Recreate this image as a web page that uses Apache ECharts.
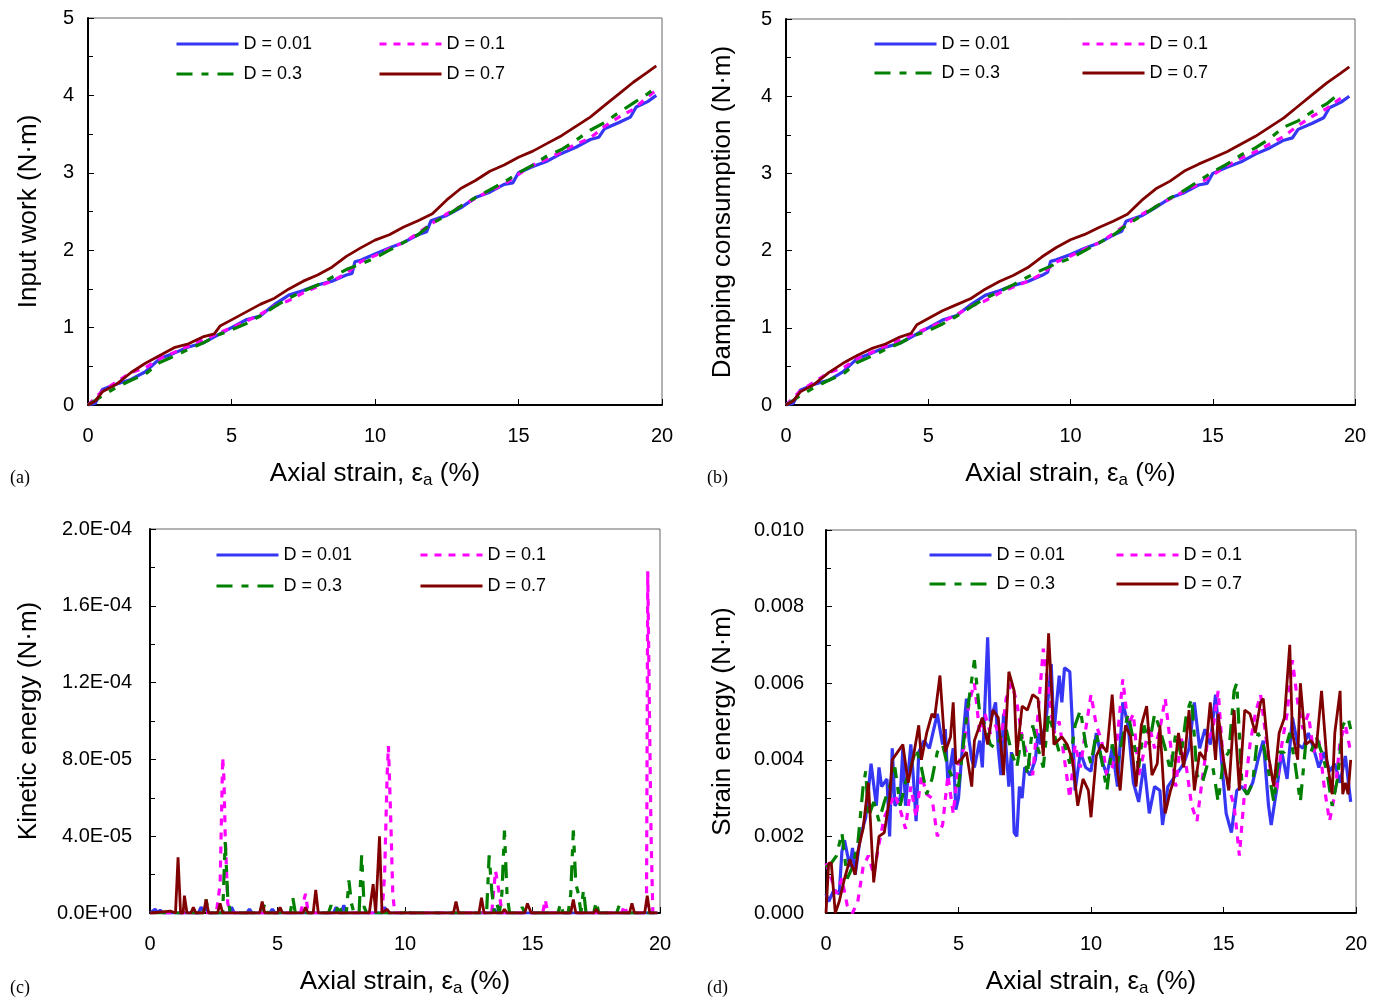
<!DOCTYPE html>
<html><head><meta charset="utf-8">
<script src="https://cdn.jsdelivr.net/npm/echarts@6/dist/echarts.min.js"></script>
<style>html,body{margin:0;padding:0;background:#fff}#c{width:1380px;height:998px}</style>
</head><body><div id="c"></div>
<script>
// ---------- DATA ----------
const seriesNames = ['D = 0.01', 'D = 0.1', 'D = 0.3', 'D = 0.7'];
const xTicks = [0, 5, 10, 15, 20];

// (a) Input work (N·m) vs axial strain (%)
const workA_001 = [[0,0],[0.25,0.02],[0.5,0.2],[1,0.27],[1.5,0.33],[2,0.43],[2.5,0.6],[3,0.67],[3.5,0.75],[4,0.8],[4.5,0.9],[5,1.0],[5.5,1.1],[6,1.15],[6.5,1.3],[7,1.42],[7.5,1.48],[8,1.55],[8.5,1.6],[9,1.68],[9.2,1.7],[9.3,1.85],[9.5,1.87],[10,1.95],[10.5,2.03],[11,2.1],[11.5,2.2],[11.8,2.24],[11.95,2.38],[12.5,2.45],[13,2.55],[13.5,2.68],[14,2.75],[14.5,2.85],[14.8,2.87],[15,3.0],[15.5,3.08],[16,3.15],[16.5,3.25],[17,3.33],[17.5,3.43],[17.8,3.46],[18,3.57],[18.5,3.65],[18.9,3.72],[19.1,3.85],[19.5,3.92],[19.8,4.0]];
const workA_01 = [[0,0],[0.5,0.18],[1,0.3],[1.5,0.42],[2,0.48],[2.5,0.6],[3,0.68],[3.5,0.76],[4,0.84],[4.5,0.92],[5,1.0],[5.5,1.08],[6,1.17],[6.5,1.28],[7,1.35],[7.5,1.45],[8,1.53],[8.5,1.6],[9,1.7],[9.5,1.85],[10,1.93],[10.5,2.02],[11,2.1],[11.5,2.22],[12,2.35],[12.5,2.47],[13,2.57],[13.5,2.67],[14,2.77],[14.5,2.85],[15,2.98],[15.5,3.1],[16,3.18],[16.5,3.27],[17,3.37],[17.5,3.45],[18,3.6],[18.5,3.72],[19,3.82],[19.5,3.98],[19.8,4.07]];
const workA_03 = [[0,0],[0.5,0.12],[1,0.23],[1.5,0.32],[2,0.4],[2.5,0.55],[3,0.63],[3.5,0.72],[4,0.8],[4.5,0.9],[5,0.97],[5.5,1.05],[6,1.15],[6.5,1.27],[7,1.38],[7.5,1.47],[8,1.55],[8.5,1.65],[9,1.75],[9.5,1.82],[10,1.9],[10.5,2.0],[11,2.1],[11.5,2.2],[12,2.35],[12.5,2.45],[13,2.57],[13.5,2.68],[14,2.78],[14.5,2.88],[15,3.0],[15.5,3.1],[16,3.22],[16.5,3.3],[17,3.42],[17.5,3.55],[18,3.65],[18.5,3.78],[19,3.9],[19.5,4.02],[19.7,4.08]];
const workA_07 = [[0,0],[0.25,0.05],[0.5,0.17],[1,0.27],[1.5,0.42],[2,0.54],[2.5,0.64],[3,0.74],[3.5,0.79],[4,0.88],[4.4,0.92],[4.6,1.02],[5,1.1],[5.5,1.2],[6,1.3],[6.5,1.38],[7,1.5],[7.5,1.6],[8,1.68],[8.5,1.78],[9,1.92],[9.5,2.03],[10,2.13],[10.5,2.2],[11,2.3],[11.5,2.38],[12,2.47],[12.5,2.65],[13,2.8],[13.5,2.9],[14,3.02],[14.5,3.1],[15,3.2],[15.5,3.28],[16,3.38],[16.5,3.48],[17,3.6],[17.5,3.72],[18,3.87],[18.5,4.02],[19,4.17],[19.5,4.3],[19.8,4.38]];

// (b) Damping consumption (N·m)
const dampB_001 = [[0,0],[0.25,0.02],[0.5,0.19],[1,0.27],[1.5,0.32],[2,0.43],[2.5,0.6],[3,0.67],[3.5,0.75],[4,0.8],[4.5,0.9],[5,1.0],[5.5,1.1],[6,1.16],[6.5,1.3],[7,1.42],[7.5,1.48],[8,1.55],[8.5,1.6],[9,1.68],[9.2,1.72],[9.3,1.86],[9.5,1.88],[10,1.95],[10.5,2.03],[11,2.1],[11.5,2.2],[11.8,2.25],[11.95,2.38],[12.5,2.45],[13,2.56],[13.5,2.68],[14,2.75],[14.5,2.85],[14.8,2.87],[15,3.0],[15.5,3.08],[16,3.15],[16.5,3.25],[17,3.33],[17.5,3.43],[17.8,3.46],[18,3.57],[18.5,3.65],[18.9,3.72],[19.1,3.85],[19.5,3.92],[19.8,4.0]];
const dampB_01 = [[0,0],[0.5,0.18],[1,0.3],[1.5,0.42],[2,0.48],[2.5,0.6],[3,0.68],[3.5,0.76],[4,0.84],[4.5,0.92],[5,1.0],[5.5,1.08],[6,1.17],[6.5,1.28],[7,1.35],[7.5,1.45],[8,1.53],[8.5,1.6],[9,1.7],[9.5,1.85],[10,1.93],[10.5,2.02],[11,2.1],[11.5,2.22],[12,2.35],[12.5,2.47],[13,2.57],[13.5,2.67],[14,2.77],[14.5,2.86],[15,2.98],[15.5,3.1],[16,3.2],[16.5,3.28],[17,3.38],[17.5,3.48],[18,3.62],[18.5,3.74],[19,3.84],[19.6,4.0]];
const dampB_03 = [[0,0],[0.5,0.12],[1,0.23],[1.5,0.32],[2,0.4],[2.5,0.55],[3,0.63],[3.5,0.72],[4,0.8],[4.5,0.9],[5,0.96],[5.5,1.05],[6,1.15],[6.5,1.27],[7,1.38],[7.5,1.47],[8,1.56],[8.5,1.66],[9,1.75],[9.5,1.83],[10,1.9],[10.5,2.0],[11,2.1],[11.5,2.2],[12,2.34],[12.5,2.45],[13,2.57],[13.5,2.68],[14,2.78],[14.5,2.9],[15,3.02],[15.5,3.12],[16,3.24],[16.5,3.33],[17,3.45],[17.5,3.6],[18,3.68],[18.5,3.8],[19,3.9],[19.4,4.02]];
const dampB_07 = [[0,0],[0.25,0.05],[0.5,0.17],[1,0.27],[1.5,0.42],[2,0.54],[2.5,0.64],[3,0.73],[3.5,0.79],[4,0.88],[4.4,0.93],[4.6,1.04],[5,1.12],[5.5,1.22],[6,1.3],[6.5,1.38],[7,1.5],[7.5,1.6],[8,1.68],[8.5,1.78],[9,1.92],[9.5,2.04],[10,2.14],[10.5,2.21],[11,2.3],[11.5,2.38],[12,2.47],[12.5,2.65],[13,2.8],[13.5,2.9],[14,3.03],[14.5,3.12],[15,3.2],[15.5,3.28],[16,3.38],[16.5,3.48],[17,3.6],[17.5,3.72],[18,3.87],[18.5,4.02],[19,4.17],[19.5,4.3],[19.8,4.38]];

// (c) Kinetic energy (N·m)
const keC_001 = [[0,0],[0.2,2e-6],[0.3,0],[0.4,1.5e-6],[0.5,0],[1.9,0],[2.0,3e-6],[2.1,1e-6],[2.2,3e-6],[2.3,0],[3.1,0],[3.2,3e-6],[3.3,0],[3.8,0],[3.9,2e-6],[4.0,0],[4.7,0],[4.8,2e-6],[4.9,0],[7.2,0],[7.3,3e-6],[7.4,0],[7.5,0],[7.6,4e-6],[7.7,0],[9.1,0],[9.2,3e-6],[9.3,0],[13.4,0],[13.5,2e-6],[13.6,0],[19.9,0]];
const keC_01 = [[0,0],[2.6,0],[2.75,1.5e-5],[2.85,8.1e-5],[2.9,7.0e-5],[2.95,4.0e-5],[3.05,5e-6],[3.15,0],[5.9,0],[6.1,1.0e-5],[6.2,0],[9.1,0],[9.2,2.0e-5],[9.3,7.2e-5],[9.35,8.7e-5],[9.45,4.5e-5],[9.52,1.0e-5],[9.6,0],[13.4,0],[13.55,2.2e-5],[13.7,1.0e-5],[13.8,0],[15.4,0],[15.5,7e-6],[15.6,0],[18.5,0],[18.6,4e-6],[18.7,0],[19.4,0],[19.47,2e-6],[19.52,1.78e-4],[19.58,1.1e-4],[19.65,4.0e-5],[19.72,0],[19.9,0]];
const keC_03 = [[0,0],[2.1,0],[2.2,7e-6],[2.3,0],[2.85,0],[2.95,3.7e-5],[3.05,8e-6],[3.15,0],[4.4,0],[4.5,5e-6],[4.6,0],[5.5,0],[5.6,8e-6],[5.7,0],[7.0,0],[7.1,4e-6],[7.2,0],[7.3,0],[7.4,5e-6],[7.5,0],[7.7,0],[7.8,1.7e-5],[7.9,5e-6],[8.0,0],[8.2,0],[8.3,3.0e-5],[8.4,3e-6],[8.5,0],[10.0,0],[10.1,3e-6],[10.2,0],[13.2,0],[13.3,3.0e-5],[13.4,1.2e-5],[13.5,0],[13.6,5e-6],[13.7,0],[13.8,1.0e-5],[13.9,4.3e-5],[14.0,1.0e-5],[14.1,0],[14.5,0],[14.6,3e-6],[14.7,0],[16.0,0],[16.1,5e-6],[16.2,0],[16.4,0],[16.5,1.0e-5],[16.6,4.3e-5],[16.7,1.5e-5],[16.8,1.0e-5],[16.9,0],[17.0,1.2e-5],[17.1,0],[17.4,0],[17.5,6e-6],[17.6,0],[18.3,0],[18.4,4e-6],[18.5,0],[19.9,0]];
const keC_07 = [[0,0],[0.8,1e-6],[1.0,0],[1.1,2.9e-5],[1.2,0],[1.3,0],[1.35,9e-6],[1.45,0],[1.6,0],[1.7,3e-6],[1.8,0],[2.1,0],[2.2,7e-6],[2.3,0],[2.65,0],[2.75,5e-6],[2.85,0],[4.3,0],[4.4,6e-6],[4.5,0],[5.0,0],[5.1,3e-6],[5.2,0],[6.0,0],[6.1,3e-6],[6.2,0],[6.4,0],[6.5,1.2e-5],[6.6,0],[8.6,0],[8.75,1.5e-5],[8.85,0],[8.9,0],[9.0,4.0e-5],[9.1,0],[9.3,2e-6],[9.4,0],[11.9,0],[12.0,6e-6],[12.1,0],[12.9,0],[13.0,8e-6],[13.1,0],[13.8,0],[13.9,2e-6],[14.0,0],[14.7,0],[14.8,5e-6],[14.95,0],[16.5,0],[16.6,7e-6],[16.7,0],[17.4,0],[17.5,2e-6],[17.6,0],[18.8,0],[18.9,5e-6],[19.0,0],[19.4,0],[19.5,9e-6],[19.6,0],[19.9,0]];

// (d) Strain energy (N·m)
const seD_001 = [[0,0.0005],[0.1,0.0003],[0.3,0.0006],[0.5,0.0005],[0.6,0.0016],[0.7,0.0019],[0.9,0.0012],[1.0,0.0017],[1.1,0.001],[1.3,0.002],[1.5,0.0025],[1.7,0.0039],[1.9,0.0028],[2.0,0.0038],[2.1,0.0033],[2.3,0.0035],[2.4,0.002],[2.5,0.0043],[2.6,0.0028],[2.8,0.003],[2.9,0.0043],[3.0,0.0028],[3.2,0.0044],[3.3,0.0035],[3.4,0.0024],[3.5,0.0042],[3.7,0.0045],[3.9,0.0043],[4.0,0.0046],[4.2,0.0052],[4.4,0.0044],[4.5,0.0048],[4.6,0.0034],[4.8,0.0043],[4.9,0.0027],[5.0,0.003],[5.2,0.0048],[5.3,0.0056],[5.4,0.0045],[5.5,0.004],[5.6,0.0038],[5.8,0.0045],[5.9,0.0038],[6.0,0.0055],[6.1,0.0072],[6.2,0.005],[6.4,0.0055],[6.5,0.0043],[6.6,0.0036],[6.7,0.0052],[6.9,0.0033],[7.0,0.0042],[7.1,0.0021],[7.2,0.002],[7.3,0.0033],[7.4,0.003],[7.5,0.0038],[7.7,0.0036],[7.9,0.004],[8.0,0.0047],[8.1,0.0044],[8.3,0.005],[8.5,0.0065],[8.6,0.0047],[8.8,0.0062],[8.9,0.0055],[9.0,0.0064],[9.2,0.0063],[9.3,0.0049],[9.4,0.0032],[9.6,0.0042],[9.8,0.0038],[10.0,0.0037],[10.2,0.0047],[10.4,0.004],[10.6,0.0036],[10.8,0.0043],[11.0,0.0033],[11.2,0.0055],[11.4,0.0049],[11.6,0.0034],[11.8,0.0029],[12.0,0.0039],[12.2,0.0026],[12.4,0.0033],[12.6,0.0032],[12.7,0.0023],[12.9,0.0033],[13.1,0.0035],[13.3,0.0037],[13.5,0.0039],[13.7,0.0043],[13.9,0.0055],[14.1,0.0043],[14.3,0.0048],[14.5,0.0044],[14.7,0.0057],[14.9,0.0042],[15.1,0.0026],[15.3,0.0021],[15.5,0.0032],[15.7,0.0033],[15.9,0.0031],[16.1,0.0034],[16.3,0.004],[16.5,0.0045],[16.7,0.0028],[16.8,0.0023],[17.0,0.0032],[17.2,0.0042],[17.4,0.0035],[17.6,0.0051],[17.8,0.0044],[18.0,0.0043],[18.2,0.0047],[18.4,0.0043],[18.6,0.0038],[18.8,0.0042],[19.0,0.0037],[19.2,0.0039],[19.4,0.0034],[19.6,0.0041],[19.8,0.0029]];
const seD_01 = [[0,0.0013],[0.2,0.0009],[0.4,0.0005],[0.6,0.0009],[0.8,0.0002],[1.0,0.0],[1.2,0.0003],[1.4,0.0012],[1.6,0.0015],[1.8,0.001],[2.0,0.0018],[2.2,0.0025],[2.4,0.0028],[2.6,0.0031],[2.8,0.0027],[3.0,0.0022],[3.2,0.0033],[3.4,0.0025],[3.6,0.0036],[3.8,0.0031],[4.0,0.003],[4.2,0.002],[4.4,0.0023],[4.6,0.0036],[4.8,0.0026],[5.0,0.0039],[5.2,0.0043],[5.4,0.0055],[5.6,0.006],[5.8,0.0047],[6.0,0.0052],[6.2,0.0047],[6.4,0.0049],[6.6,0.0045],[6.8,0.0056],[7.0,0.006],[7.2,0.0055],[7.4,0.0046],[7.6,0.0041],[7.8,0.0036],[8.0,0.0052],[8.2,0.0069],[8.4,0.0058],[8.6,0.0047],[8.8,0.005],[9.0,0.004],[9.2,0.003],[9.4,0.0044],[9.6,0.0038],[9.8,0.0048],[10.0,0.0057],[10.2,0.0049],[10.4,0.0045],[10.6,0.0036],[10.8,0.0038],[11.0,0.0046],[11.2,0.0061],[11.4,0.0049],[11.6,0.0052],[11.8,0.0036],[12.0,0.0042],[12.2,0.0049],[12.4,0.0043],[12.6,0.0048],[12.8,0.0056],[13.0,0.0044],[13.2,0.0033],[13.4,0.0046],[13.6,0.0038],[13.8,0.0028],[14.0,0.0024],[14.2,0.0035],[14.4,0.0045],[14.6,0.0048],[14.8,0.0058],[15.0,0.0038],[15.2,0.0033],[15.4,0.0028],[15.6,0.0015],[15.8,0.0032],[16.0,0.0044],[16.2,0.0052],[16.4,0.0057],[16.6,0.0046],[16.8,0.0036],[17.0,0.0032],[17.2,0.0044],[17.4,0.0052],[17.6,0.0066],[17.8,0.0055],[18.0,0.0048],[18.2,0.0052],[18.4,0.0042],[18.6,0.0045],[18.8,0.0033],[19.0,0.0024],[19.2,0.0031],[19.4,0.0045],[19.6,0.0049],[19.8,0.0042]];
const seD_03 = [[0,0.0012],[0.2,0.0013],[0.4,0.0015],[0.6,0.0021],[0.8,0.0009],[1.0,0.0012],[1.2,0.0018],[1.4,0.0033],[1.5,0.0037],[1.6,0.0025],[1.8,0.0029],[2.0,0.0024],[2.2,0.0029],[2.4,0.0033],[2.6,0.0038],[2.8,0.0028],[3.0,0.0034],[3.2,0.0038],[3.4,0.0043],[3.6,0.0038],[3.8,0.0031],[4.0,0.0035],[4.2,0.0042],[4.4,0.0044],[4.6,0.0038],[4.8,0.0035],[5.0,0.0033],[5.2,0.0045],[5.4,0.0056],[5.6,0.0066],[5.8,0.0052],[6.0,0.0049],[6.2,0.0044],[6.4,0.0043],[6.6,0.0046],[6.8,0.0048],[7.0,0.0042],[7.2,0.0038],[7.4,0.0047],[7.6,0.0036],[7.8,0.0049],[8.0,0.0043],[8.2,0.0038],[8.4,0.0052],[8.6,0.0047],[8.8,0.0042],[9.0,0.0044],[9.2,0.0039],[9.4,0.0049],[9.6,0.0053],[9.8,0.0044],[10.0,0.0039],[10.2,0.0047],[10.4,0.004],[10.6,0.0032],[10.8,0.0044],[11.0,0.0039],[11.2,0.0046],[11.4,0.0052],[11.6,0.0045],[11.8,0.0038],[12.0,0.0049],[12.2,0.0044],[12.4,0.0052],[12.6,0.0048],[12.8,0.0043],[13.0,0.0037],[13.2,0.0047],[13.4,0.0041],[13.6,0.0052],[13.8,0.0056],[14.0,0.0036],[14.2,0.0034],[14.4,0.0039],[14.6,0.0038],[14.8,0.0029],[15.0,0.004],[15.2,0.0042],[15.4,0.0058],[15.5,0.006],[15.7,0.0033],[15.9,0.0031],[16.1,0.0034],[16.3,0.0047],[16.5,0.0044],[16.7,0.0037],[16.9,0.0029],[17.1,0.0042],[17.3,0.0042],[17.5,0.0047],[17.7,0.0039],[17.9,0.0029],[18.1,0.0044],[18.3,0.0042],[18.5,0.0046],[18.7,0.0042],[18.9,0.0037],[19.1,0.0028],[19.3,0.0035],[19.5,0.0049],[19.7,0.0051],[19.8,0.0048]];
const seD_07 = [[0,0.0],[0.1,0.0013],[0.2,0.0013],[0.35,0.0],[0.5,0.0003],[0.7,0.0009],[0.9,0.0014],[1.1,0.001],[1.2,0.0016],[1.4,0.0022],[1.6,0.0034],[1.8,0.0008],[2.0,0.002],[2.2,0.0021],[2.4,0.003],[2.5,0.004],[2.7,0.0042],[2.9,0.0044],[3.1,0.0034],[3.3,0.0041],[3.5,0.0049],[3.6,0.004],[3.8,0.0047],[4.0,0.0052],[4.1,0.0051],[4.3,0.0062],[4.5,0.0042],[4.7,0.0046],[4.8,0.0055],[4.9,0.0039],[5.1,0.004],[5.3,0.0042],[5.5,0.0033],[5.6,0.0045],[5.9,0.0051],[6.1,0.0044],[6.3,0.0053],[6.5,0.0051],[6.7,0.0036],[6.9,0.0063],[7.1,0.0058],[7.2,0.0041],[7.4,0.0054],[7.6,0.0053],[7.8,0.0057],[8.0,0.0056],[8.2,0.0041],[8.4,0.0073],[8.5,0.006],[8.6,0.0044],[8.9,0.0046],[9.1,0.0044],[9.3,0.004],[9.5,0.0028],[9.7,0.0035],[9.9,0.0032],[10.0,0.0025],[10.2,0.0041],[10.4,0.0044],[10.6,0.0042],[10.8,0.0057],[11.0,0.0037],[11.1,0.0032],[11.3,0.0049],[11.5,0.0046],[11.7,0.0033],[11.9,0.0049],[12.1,0.0054],[12.3,0.0036],[12.5,0.0039],[12.6,0.0049],[12.8,0.0026],[13.0,0.0032],[13.1,0.0034],[13.3,0.0047],[13.5,0.0038],[13.7,0.0053],[13.9,0.0032],[14.1,0.0042],[14.3,0.004],[14.5,0.0055],[14.7,0.004],[14.8,0.0052],[15.0,0.004],[15.2,0.0032],[15.4,0.0053],[15.6,0.0032],[15.8,0.0053],[16.0,0.0052],[16.2,0.0047],[16.4,0.0055],[16.5,0.0056],[16.7,0.0041],[16.9,0.0033],[17.1,0.0047],[17.3,0.0051],[17.5,0.007],[17.6,0.0047],[17.8,0.004],[17.9,0.006],[18.1,0.0044],[18.3,0.0045],[18.5,0.0043],[18.7,0.0058],[18.9,0.004],[19.1,0.0031],[19.2,0.0047],[19.4,0.0058],[19.5,0.0031],[19.6,0.0034],[19.7,0.0031],[19.8,0.004]];

// ---------- CHART ----------
const FONT = 'Liberation Sans, Arial, sans-serif';
const styles = [
  {color:'#3636F5', width:3.2, type:'solid'},
  {color:'#FF00FF', width:3.2, type:[7,7]},
  {color:'#008000', width:3.2, type:[16,9,7,9]},
  {color:'#800000', width:2.8, type:'solid'}
];
const panels = [
  {grid:{left:88,top:18,width:574,height:387}, ymax:5, yint:1, yfmt:v=>String(v), yname:'Input work (N·m)', ygap:46, lmargin:14,
   data:[workA_001,workA_01,workA_03,workA_07], leg:{c1:175,c2:378,r1:44,r2:74}, tag:'(a)', tagPos:[10,469]},
  {grid:{left:786,top:19,width:569,height:386}, ymax:5, yint:1, yfmt:v=>String(v), yname:'Damping consumption (N·m)', ygap:50, lmargin:14,
   data:[dampB_001,dampB_01,dampB_03,dampB_07], leg:{c1:873,c2:1081,r1:44,r2:73}, tag:'(b)', tagPos:[707,469]},
  {grid:{left:150,top:529,width:510,height:387}, ymax:2e-4, yint:4e-5, yfmt:sciFmt, yname:'Kinetic energy (N·m)', ygap:108, lmargin:18,
   data:[keC_001,keC_01,keC_03,keC_07], leg:{c1:215,c2:419,r1:555,r2:586}, tag:'(c)', tagPos:[10,979]},
  {grid:{left:826,top:530,width:530,height:386}, ymax:0.01, yint:0.002, yfmt:v=>v.toFixed(3), yname:'Strain energy (N·m)', ygap:90, lmargin:22,
   data:[seD_001,seD_01,seD_03,seD_07], leg:{c1:928,c2:1115,r1:555,r2:584}, tag:'(d)', tagPos:[707,979]}
];
function sciFmt(v){
  if (Math.abs(v) < 1e-12) return '0.0E+00';
  const s = v.toExponential(1).split('e');
  const e = parseInt(s[1],10);
  const n = Math.abs(e);
  return s[0] + 'E' + (e<0?'-':'+') + (n<10?'0'+n:String(n));
}

const option = {backgroundColor:'#fff', animation:false, grid:[], xAxis:[], yAxis:[], series:[], legend:[], title:[]};
panels.forEach((p, i) => {
  option.grid.push(Object.assign({show:true, borderColor:'#666', borderWidth:1, backgroundColor:'transparent'}, p.grid));
  option.xAxis.push({
    type:'value', gridIndex:i, min:xTicks[0], max:xTicks[xTicks.length-1], interval:5,
    axisLine:{show:true, onZero:false, lineStyle:{color:'#000', width:2}},
    axisTick:{show:true, inside:true, length:6, lineStyle:{color:'#000', width:1}},
    splitLine:{show:false},
    axisLabel:{color:'#000', fontSize:20, fontFamily:FONT, margin:21},
    name:'Axial strain, ε{sub|a} (%)', nameLocation:'middle', nameGap:53,
    nameTextStyle:{color:'#000', fontSize:26, fontFamily:FONT, lineHeight:31,
      rich:{sub:{fontSize:17, fontFamily:FONT, color:'#000', verticalAlign:'top', padding:[14,0,0,0]}}}
  });
  option.yAxis.push({
    type:'value', gridIndex:i, min:0, max:p.ymax, interval:p.yint,
    axisLine:{show:true, onZero:false, lineStyle:{color:'#000', width:2}},
    axisTick:{show:true, inside:true, length:6, lineStyle:{color:'#000', width:1}},
    minorTick:{show:true, splitNumber:2, length:5, lineStyle:{color:'#000', width:1}},
    splitLine:{show:false},
    axisLabel:{color:'#000', fontSize:20, fontFamily:FONT, margin:p.lmargin, formatter:p.yfmt},
    name:p.yname, nameLocation:'middle', nameGap:p.ygap,
    nameTextStyle:{color:'#000', fontSize:26, fontFamily:FONT}
  });
  p.data.forEach((d, k) => {
    option.series.push({
      type:'line', name:seriesNames[k], xAxisIndex:i, yAxisIndex:i, data:d,
      symbol:'none', smooth:false, clip:true,
      lineStyle:{color:styles[k].color, width:styles[k].width, type:styles[k].type},
      itemStyle:{color:styles[k].color}, z:2+k
    });
  });
  const pos = [[p.leg.c1,p.leg.r1],[p.leg.c2,p.leg.r1],[p.leg.c1,p.leg.r2],[p.leg.c2,p.leg.r2]];
  pos.forEach((xy, k) => {
    option.legend.push({
      data:[seriesNames[k]], left:xy[0], top:xy[1]-9, padding:0, itemWidth:62, itemHeight:14,
      selectedMode:false, itemStyle:{opacity:0, borderWidth:0},
      lineStyle:{width:3},
      textStyle:{color:'#000', fontSize:18, fontFamily:FONT}
    });
  });
  option.title.push({text:p.tag, left:p.tagPos[0], top:p.tagPos[1], padding:0,
    textStyle:{color:'#000', fontSize:18, fontWeight:'normal', fontFamily:'Liberation Serif, Times New Roman, serif'}});
});
const chart = echarts.init(document.getElementById('c'), null, {renderer:'canvas'});
chart.setOption(option);
</script>
</body></html>
